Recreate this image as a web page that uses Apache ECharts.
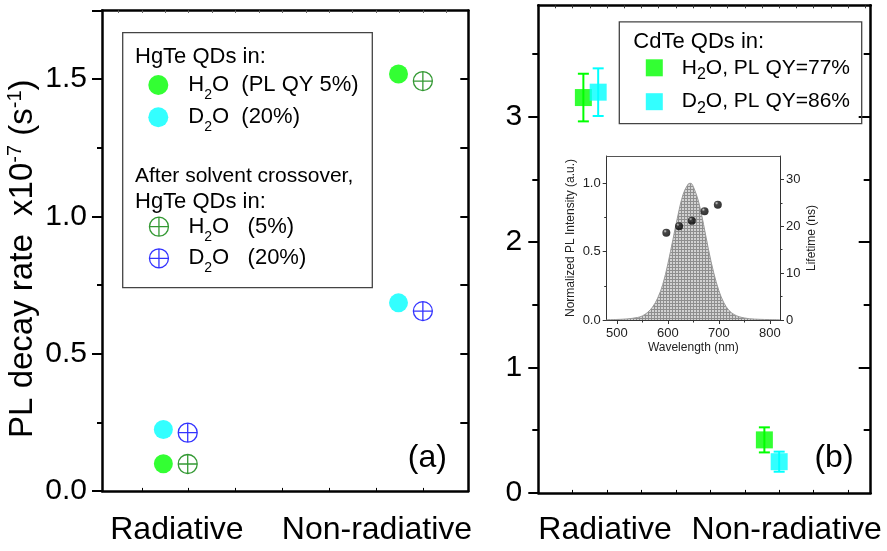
<!DOCTYPE html>
<html><head><meta charset="utf-8">
<script src="https://cdn.jsdelivr.net/npm/echarts@6/dist/echarts.min.js"></script>
<style>html,body{margin:0;padding:0;background:#fff}#c{width:887px;height:551px}</style>
</head><body><div id="c"></div><script>
// ---------------- data ----------------
const categories = ['Radiative', 'Non-radiative'];
// Panel (a): HgTe QDs, PL decay rate (x10^-7 s^-1)
const hgteH2O  = [0.099, 1.519];
const hgteD2O  = [0.224, 0.685];
const crossH2O = [0.098, 1.493];
const crossD2O = [0.212, 0.655];
// Panel (b): CdTe QDs
const cdteH2O    = [3.154, 0.423];
const cdteH2OErr = [0.19, 0.10];
const cdteD2O    = [3.197, 0.249];
const cdteD2OErr = [0.19, 0.08];
// Inset: PL spectrum and lifetimes
const wavelength  = [480, 500, 520, 540, 550, 560, 570, 580, 590, 600, 610, 620, 630, 640, 645, 650, 660, 670, 680, 690, 700, 710, 720, 730, 740, 750, 760, 780, 800, 820];
const plIntensity = [0.002, 0.004, 0.008, 0.018, 0.03, 0.055, 0.095, 0.16, 0.26, 0.41, 0.59, 0.77, 0.92, 0.995, 1.0, 0.975, 0.87, 0.70, 0.51, 0.345, 0.215, 0.125, 0.07, 0.04, 0.024, 0.015, 0.009, 0.005, 0.003, 0.002];
const ltWavelength = [597, 622, 647, 672, 698];
const lifetime     = [18.6, 20.0, 21.2, 23.2, 24.6];
// tick values
const yTicksA = [0, 0.5, 1.0, 1.5];
const yTicksB = [0, 1, 2, 3];
const insetXTicks = [500, 600, 700, 800];
const insetYTicks = [0, 0.5, 1.0];
const insetY2Ticks = [0, 10, 20, 30];

// ---------------- layout constants ----------------
const FF = "'Liberation Sans', Arial, Helvetica, sans-serif";
const catXA = [0.46, 5.48], crossOffA = 0.52;
const catXB = [1.31, 6.57], d2oOffB = 0.43;

const chart = echarts.init(document.getElementById('c'), null, {renderer: 'canvas'});

const pat = document.createElement('canvas'); pat.width = 3; pat.height = 3;
const pc = pat.getContext('2d');
pc.fillStyle = '#d2d2d2'; pc.fillRect(0, 0, 3, 3);
pc.fillStyle = '#8e8e8e'; pc.fillRect(0, 0, 3, 1); pc.fillRect(0, 0, 1, 3);

const crossSym = 'path://M10,0A10,10,0,1,1,10,20A10,10,0,1,1,10,0ZM0,10L20,10M10,0L10,20';
const black = '#000';
const thick = {show: true, onZero: false, lineStyle: {color: black, width: 2.5}};
const noLine = {show: false, onZero: false};
const noLabel = {show: false};

function errSeries(name, vals, errs, color, off) {
  return {
    type: 'custom', name: name, xAxisIndex: 2, yAxisIndex: 3, z: 3, silent: true,
    data: vals.map((v, i) => [catXB[i] + off, v, errs[i]]),
    encode: {x: 0, y: 1},
    renderItem: function (params, api) {
      const x = api.value(0), y = api.value(1), e = api.value(2);
      const t = api.coord([x, y + e]), b = api.coord([x, y - e]);
      const hw = 5.5, st = {stroke: color, lineWidth: 2};
      return {type: 'group', children: [
        {type: 'line', shape: {x1: t[0], y1: t[1], x2: b[0], y2: b[1]}, style: st},
        {type: 'line', shape: {x1: t[0] - hw, y1: t[1], x2: t[0] + hw, y2: t[1]}, style: st},
        {type: 'line', shape: {x1: b[0] - hw, y1: b[1], x2: b[0] + hw, y2: b[1]}, style: st}
      ]};
    }
  };
}

const legendNames = {
  'H2O (PL QY 5%)': 'H{s|2}O  (PL QY 5%)',
  'D2O (20%)': 'D{s|2}O  (20%)',
  'H2O (5%) crossover': 'H{s|2}O   (5%)',
  'D2O (20%) crossover': 'D{s|2}O   (20%)',
  'H2O, PL QY=77%': 'H{s|2}O, PL QY=77%',
  'D2O, PL QY=86%': 'D{s|2}O, PL QY=86%'
};
function lgA(name, left, top, size) {
  return {
    data: [name], left: left, top: top, padding: 0, itemGap: 0, orient: 'vertical',
    itemWidth: size, itemHeight: size, selectedMode: false,
    itemStyle: {borderWidth: 1.3},
    formatter: n => legendNames[n],
    textStyle: {fontSize: 22, fontFamily: FF, color: black, lineHeight: 34, padding: [0, 0, 0, 15],
      rich: {s: {fontSize: 14, fontFamily: FF, color: black, lineHeight: 14, verticalAlign: 'bottom'}}}
  };
}
function lgB(name, top) {
  return {
    data: [name], left: 645.8, top: top, padding: 0, itemGap: 0, orient: 'vertical',
    itemWidth: 17, itemHeight: 17, selectedMode: false,
    formatter: n => legendNames[n],
    textStyle: {fontSize: 21, fontFamily: FF, color: black, lineHeight: 30, padding: [0, 0, 0, 14],
      rich: {s: {fontSize: 16, fontFamily: FF, color: black, lineHeight: 16, verticalAlign: 'bottom'}}}
  };
}
function txt(text, x, y, size, align) {
  return {type: 'text', x: x, y: y, z: 10, silent: true,
    style: {text: text, fontSize: size, fontFamily: FF, fill: black,
      textAlign: align || 'left', align: align || 'left', textVerticalAlign: 'middle', verticalAlign: 'middle'}};
}

const option = {
  animation: false,
  backgroundColor: '#fff',
  grid: [
    {left: 102, top: 10.5, width: 366.3, height: 480.4, outerBoundsMode: 'none', containLabel: false},
    {left: 538.3, top: 5.3, width: 332.4, height: 487.6, outerBoundsMode: 'none', containLabel: false},
    {left: 606.7, top: 156, width: 173.3, height: 164, outerBoundsMode: 'none', containLabel: false}
  ],
  xAxis: [
    // 0: panel a bottom
    {gridIndex: 0, type: 'value', position: 'bottom', min: -0.85, max: 6.97, axisLine: thick, splitLine: {show: false},
      axisTick: {show: true, inside: true, length: 3, customValues: [0, 1, 2, 3, 4, 5, 6], lineStyle: {color: black, width: 1}},
      axisLabel: {show: true, customValues: [0.75, 5.02], formatter: v => categories[v < 3 ? 0 : 1], fontSize: 32, fontFamily: FF, color: black, margin: 23}},
    // 1: panel a top
    {gridIndex: 0, type: 'value', position: 'top', min: -0.85, max: 6.97, axisLine: thick, splitLine: {show: false},
      axisTick: {show: true, inside: true, length: 2.5, customValues: [-0.5, 0, 0.5, 1, 1.5, 2, 2.5, 3, 3.5, 4, 4.5, 5, 5.5, 6, 6.5], lineStyle: {color: '#666', width: 1}},
      axisLabel: noLabel},
    // 2: panel b bottom
    {gridIndex: 1, type: 'value', position: 'bottom', min: 0, max: 9.66, axisLine: thick, splitLine: {show: false},
      axisTick: {show: true, inside: true, length: 3, customValues: [1, 2, 3, 4, 5, 6, 7, 8, 9], lineStyle: {color: black, width: 1}},
      axisLabel: {show: true, customValues: [1.94, 7.22], formatter: v => categories[v < 4.5 ? 0 : 1], fontSize: 32, fontFamily: FF, color: black, margin: 21}},
    // 3: panel b top
    {gridIndex: 1, type: 'value', position: 'top', min: 0, max: 9.66, axisLine: thick, splitLine: {show: false},
      axisTick: {show: true, inside: true, length: 3, customValues: [0.5, 1, 1.5, 2, 2.5, 3, 3.5, 4, 4.5, 5, 5.5, 6, 6.5, 7, 7.5, 8, 8.5, 9, 9.5], lineStyle: {color: '#333', width: 1}},
      axisLabel: noLabel},
    // 4: inset bottom
    {gridIndex: 2, type: 'value', position: 'bottom', min: 480, max: 820, axisLine: {show: true, onZero: false, lineStyle: {color: '#333', width: 1}}, splitLine: {show: false},
      axisTick: {show: true, inside: false, length: 4, customValues: insetXTicks, lineStyle: {color: '#333', width: 1}},
      axisLabel: {show: true, customValues: insetXTicks, fontSize: 13, fontFamily: FF, color: '#222', margin: 7},
      name: 'Wavelength (nm)', nameLocation: 'middle', nameGap: 22, nameTextStyle: {fontSize: 12, fontFamily: FF, color: '#222'}},
    // 5: inset bottom minor
    {gridIndex: 2, type: 'value', position: 'bottom', min: 480, max: 820, axisLine: noLine, splitLine: {show: false},
      axisTick: {show: true, inside: false, length: 2.5, customValues: [550, 650, 750], lineStyle: {color: '#333', width: 1}}, axisLabel: noLabel},
    // 6: inset top
    {gridIndex: 2, type: 'value', position: 'top', min: 480, max: 820, axisLine: {show: true, onZero: false, lineStyle: {color: '#555', width: 1}}, splitLine: {show: false},
      axisTick: {show: false}, axisLabel: noLabel}
  ],
  yAxis: [
    // 0: panel a left
    {gridIndex: 0, type: 'value', position: 'left', min: 0, max: 1.75, axisLine: thick, splitLine: {show: false},
      axisTick: {show: true, inside: false, length: 10, customValues: [0, 0.5, 1, 1.5, 1.75], lineStyle: {color: black, width: 2}},
      axisLabel: {show: true, customValues: yTicksA, formatter: v => v.toFixed(1), fontSize: 30, fontFamily: FF, color: black, margin: 15},
      name: 'PL decay rate  x10{sup|-7} (s{sup|-1})', nameLocation: 'middle', nameGap: 49,
      nameTextStyle: {fontSize: 33, fontFamily: FF, color: black, lineHeight: 36, padding: [0, 16, 0, 0],
        rich: {sup: {fontSize: 20, fontFamily: FF, color: black, lineHeight: 21, verticalAlign: 'top'}}}},
    // 1: panel a left minor
    {gridIndex: 0, type: 'value', position: 'left', min: 0, max: 1.75, axisLine: noLine, splitLine: {show: false},
      axisTick: {show: true, inside: false, length: 5, customValues: [0.25, 0.75, 1.25], lineStyle: {color: black, width: 2}}, axisLabel: noLabel},
    // 2: panel a right
    {gridIndex: 0, type: 'value', position: 'right', min: 0, max: 1.75, axisLine: thick, splitLine: {show: false},
      axisTick: {show: true, inside: true, length: 8, customValues: [0.25, 0.5, 0.75, 1, 1.25, 1.5], lineStyle: {color: black, width: 2}}, axisLabel: noLabel},
    // 3: panel b left
    {gridIndex: 1, type: 'value', position: 'left', min: 0, max: 3.89, axisLine: thick, splitLine: {show: false},
      axisTick: {show: true, inside: false, length: 10, customValues: yTicksB, lineStyle: {color: black, width: 2}},
      axisLabel: {show: true, customValues: yTicksB, formatter: v => String(v), fontSize: 30, fontFamily: FF, color: black, margin: 16}},
    // 4: panel b left minor
    {gridIndex: 1, type: 'value', position: 'left', min: 0, max: 3.89, axisLine: noLine, splitLine: {show: false},
      axisTick: {show: true, inside: false, length: 6, customValues: [0.5, 1.5, 2.5, 3.5], lineStyle: {color: black, width: 2}}, axisLabel: noLabel},
    // 5: panel b right major
    {gridIndex: 1, type: 'value', position: 'right', min: 0, max: 3.89, axisLine: thick, splitLine: {show: false},
      axisTick: {show: true, inside: true, length: 12, customValues: [1, 2, 3], lineStyle: {color: black, width: 2}}, axisLabel: noLabel},
    // 6: panel b right minor
    {gridIndex: 1, type: 'value', position: 'right', min: 0, max: 3.89, axisLine: noLine, splitLine: {show: false},
      axisTick: {show: true, inside: true, length: 7, customValues: [0.5, 1.5, 2.5, 3.5], lineStyle: {color: black, width: 2}}, axisLabel: noLabel},
    // 7: inset left
    {gridIndex: 2, type: 'value', position: 'left', min: 0, max: 1.2, axisLine: {show: true, onZero: false, lineStyle: {color: '#333', width: 1}}, splitLine: {show: false},
      axisTick: {show: true, inside: false, length: 4, customValues: insetYTicks, lineStyle: {color: '#333', width: 1}},
      axisLabel: {show: true, customValues: insetYTicks, formatter: v => v.toFixed(1), fontSize: 13, fontFamily: FF, color: '#222', margin: 6},
      name: 'Normalized PL Intensity (a.u.)', nameLocation: 'middle', nameGap: 30, nameTextStyle: {fontSize: 12, fontFamily: FF, color: '#222'}},
    // 8: inset left minor
    {gridIndex: 2, type: 'value', position: 'left', min: 0, max: 1.2, axisLine: noLine, splitLine: {show: false},
      axisTick: {show: true, inside: false, length: 2.5, customValues: [0.25, 0.75], lineStyle: {color: '#333', width: 1}}, axisLabel: noLabel},
    // 9: inset right
    {gridIndex: 2, type: 'value', position: 'right', min: 0, max: 35, axisLine: {show: true, onZero: false, lineStyle: {color: '#333', width: 1}}, splitLine: {show: false},
      axisTick: {show: true, inside: false, length: 4, customValues: insetY2Ticks, lineStyle: {color: '#333', width: 1}},
      axisLabel: {show: true, customValues: insetY2Ticks, fontSize: 13, fontFamily: FF, color: '#222', margin: 6},
      name: 'Lifetime (ns)', nameLocation: 'middle', nameGap: 26, nameTextStyle: {fontSize: 12, fontFamily: FF, color: '#222'}},
    // 10: inset right minor
    {gridIndex: 2, type: 'value', position: 'right', min: 0, max: 35, axisLine: noLine, splitLine: {show: false},
      axisTick: {show: true, inside: false, length: 2.5, customValues: [5, 15, 25], lineStyle: {color: '#333', width: 1}}, axisLabel: noLabel}
  ],
  legend: [
    lgA('H2O (PL QY 5%)', 148.3, 68, 20),
    lgA('D2O (20%)', 148.3, 100.3, 20),
    lgA('H2O (5%) crossover', 148.8, 209.7, 19),
    lgA('D2O (20%) crossover', 148.8, 241.3, 19),
    lgB('H2O, PL QY=77%', 52.8),
    lgB('D2O, PL QY=86%', 86.7)
  ],
  graphic: [
    {type: 'rect', z: 9, silent: true, shape: {x: 122.7, y: 32.7, width: 249.6, height: 255}, style: {fill: 'none', stroke: '#444', lineWidth: 1.3}},
    {type: 'rect', z: 9, silent: true, shape: {x: 619.3, y: 21.8, width: 242.4, height: 101.9}, style: {fill: 'none', stroke: '#444', lineWidth: 1.3}},
    txt('HgTe QDs in:', 135, 56.7, 22),
    txt('After solvent crossover,', 135, 176.7, 21),
    txt('HgTe QDs in:', 135, 201.7, 22),
    txt('CdTe QDs in:', 633.3, 41.5, 22),
    txt('(a)', 427.3, 458, 32, 'center'),
    txt('(b)', 834, 458, 32, 'center')
  ],
  series: [
    // inset
    {type: 'line', name: 'PL spectrum', xAxisIndex: 4, yAxisIndex: 7, silent: true, z: 2,
      data: wavelength.map((w, i) => [w, plIntensity[i]]), smooth: 0.35, symbol: 'none', showSymbol: false,
      lineStyle: {color: '#9a9a9a', width: 1}, areaStyle: {color: {image: pat, repeat: 'repeat'}, opacity: 1}},
    {type: 'scatter', name: 'Lifetime', xAxisIndex: 4, yAxisIndex: 9, silent: true, z: 3,
      data: ltWavelength.map((w, i) => [w, lifetime[i]]), symbol: 'circle', symbolSize: 8,
      itemStyle: {color: {type: 'radial', x: 0.35, y: 0.3, r: 0.7, colorStops: [{offset: 0, color: '#c8c8c8'}, {offset: 0.3, color: '#1a1a1a'}, {offset: 1, color: '#000'}]}}},
    // panel a
    {type: 'scatter', name: 'H2O (PL QY 5%)', xAxisIndex: 0, yAxisIndex: 0, symbol: 'circle', symbolSize: 19,
      itemStyle: {color: '#00ff00'}, data: hgteH2O.map((v, i) => [catXA[i], v])},
    {type: 'scatter', name: 'D2O (20%)', xAxisIndex: 0, yAxisIndex: 0, symbol: 'circle', symbolSize: 19,
      itemStyle: {color: '#00ffff'}, data: hgteD2O.map((v, i) => [catXA[i], v])},
    {type: 'scatter', name: 'H2O (5%) crossover', xAxisIndex: 0, yAxisIndex: 0, symbol: crossSym, symbolSize: 19,
      itemStyle: {color: 'rgba(0,0,0,0)', borderColor: '#008000', borderWidth: 1.3}, data: crossH2O.map((v, i) => [catXA[i] + crossOffA, v])},
    {type: 'scatter', name: 'D2O (20%) crossover', xAxisIndex: 0, yAxisIndex: 0, symbol: crossSym, symbolSize: 19,
      itemStyle: {color: 'rgba(0,0,0,0)', borderColor: '#0000ff', borderWidth: 1.3}, data: crossD2O.map((v, i) => [catXA[i] + crossOffA, v])},
    // panel b
    errSeries('H2O err', cdteH2O, cdteH2OErr, '#00ff00', 0),
    errSeries('D2O err', cdteD2O, cdteD2OErr, '#00ffff', d2oOffB),
    {type: 'scatter', name: 'H2O, PL QY=77%', xAxisIndex: 2, yAxisIndex: 3, symbol: 'rect', symbolSize: 17, z: 4,
      itemStyle: {color: '#00ff00'}, data: cdteH2O.map((v, i) => [catXB[i], v])},
    {type: 'scatter', name: 'D2O, PL QY=86%', xAxisIndex: 2, yAxisIndex: 3, symbol: 'rect', symbolSize: 17, z: 5,
      itemStyle: {color: '#00ffff'}, data: cdteD2O.map((v, i) => [catXB[i] + d2oOffB, v])}
  ]
};
chart.setOption(option);
</script></body></html>
